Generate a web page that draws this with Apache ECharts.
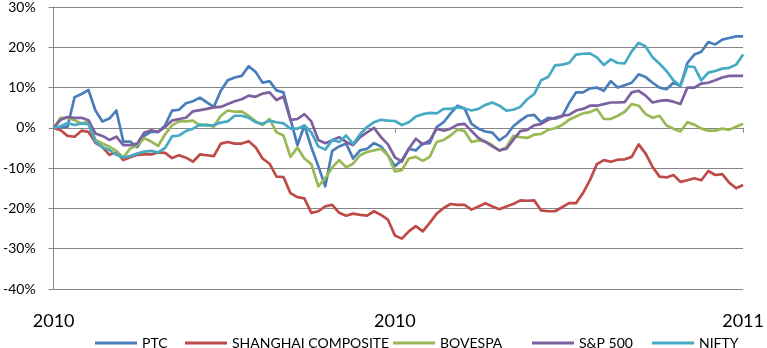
<!DOCTYPE html>
<html><head><meta charset="utf-8">
<script src="https://cdn.jsdelivr.net/npm/echarts@6/dist/echarts.min.js"></script>
<style>html,body{margin:0;padding:0;background:#fff}#c{width:767px;height:348px}</style>
</head><body><div id="c"></div>
<script>
const seriesNames = ['PTC', 'SHANGHAI COMPOSITE', 'BOVESPA', 'S&P 500', 'NIFTY'];
const seriesColors = ['#4A7EBB', '#BE4B48', '#98B954', '#7D60A0', '#46AAC5'];

const ptc = [0, 0.2, 0.3, 7.6, 8.4, 9.4, 4.3, 1.6, 2.3, 4.3, -3.4, -3.4, -4.8, -2.0, -1.0, -1.0, 0.6, 4.3, 4.5, 6.1,
  6.6, 7.5, 6.3, 5.2, 9.2, 11.8, 12.5, 12.9, 15.3, 13.9, 11.2, 11.6, 9.3, 8.8, 2.2, -4.3, 0.6, -4.8, -9.5, -14.5,
  -5.7, -4.6, -3.9, -7.6, -5.6, -5.2, -3.8, -4.6, -6.8, -9.5, -8.0, -5.2, -5.6, -3.9, -3.8, 0.2, 1.4, 3.6, 5.5, 4.8,
  1.0, -0.2, -0.9, -1.2, -3.1, -1.9, 0.4, 1.8, 3.0, 3.2, 1.4, 2.5, 2.3, 2.8, 6.1, 8.8, 8.8, 9.8, 10.0, 9.2,
  11.6, 10.0, 10.6, 11.2, 13.3, 12.6, 11.2, 10.0, 9.6, 11.2, 10.4, 16.1, 18.2, 18.9, 21.3, 20.7, 21.9, 22.3, 22.7, 22.7];

const shanghai = [0, -0.6, -2.0, -2.2, -0.7, -1.0, -3.7, -4.8, -6.7, -6.1, -8.0, -7.3, -6.7, -6.6, -6.6, -6.1, -6.2, -7.5, -6.8, -7.4,
  -8.4, -6.6, -6.8, -7.0, -3.9, -3.5, -3.9, -3.9, -3.3, -4.8, -7.6, -8.9, -12.1, -12.2, -16.2, -17.2, -17.5, -21.1, -20.7, -19.5,
  -19.1, -21.1, -21.8, -21.3, -21.6, -21.8, -20.7, -21.6, -22.8, -26.7, -27.5, -25.7, -24.4, -25.7, -23.6, -21.3, -19.9, -18.9, -19.1, -19.1,
  -20.3, -19.5, -18.7, -19.5, -20.2, -19.5, -18.9, -18.0, -18.1, -18.0, -20.5, -20.7, -20.7, -19.7, -18.7, -18.7, -16.2, -13.0, -9.0, -8.0,
  -8.4, -7.9, -7.8, -7.2, -4.1, -6.4, -9.7, -12.1, -12.3, -11.7, -13.4, -13.0, -12.5, -13.0, -10.7, -11.7, -11.5, -13.6, -15.0, -14.2];

const bovespa = [0, 2.5, 2.5, 1.9, 1.1, 1.5, -3.0, -3.9, -4.7, -5.7, -7.4, -5.1, -4.3, -2.6, -3.4, -4.5, -1.6, 0.6, 1.6, 1.6,
  1.8, 0.6, 0.8, 0.3, 3.0, 4.3, 4.0, 4.1, 3.0, 1.6, 0.7, 2.2, -1.1, -1.9, -7.2, -4.9, -7.6, -9.0, -14.5, -12.5,
  -9.8, -8.0, -9.8, -8.9, -6.8, -6.0, -5.6, -5.2, -6.8, -10.8, -10.5, -7.6, -7.2, -8.2, -7.2, -3.5, -3.0, -1.9, -0.4, -0.8,
  -3.5, -3.1, -3.4, -4.3, -5.7, -4.8, -2.0, -2.3, -2.5, -1.7, -1.5, -0.5, -0.1, 0.7, 2.0, 2.8, 3.6, 3.9, 4.7, 2.2,
  2.2, 3.0, 4.0, 5.9, 5.5, 3.4, 2.5, 3.0, 0.6, -0.2, -0.9, 1.4, 0.8, -0.2, -0.7, -0.7, -0.2, -0.5, 0.3, 1.0];

const sp500 = [0, 2.0, 2.7, 2.5, 2.5, 1.9, -1.4, -2.0, -3.0, -2.2, -4.3, -4.3, -3.9, -1.2, -0.6, -1.0, 0.2, 1.8, 2.2, 2.5,
  4.1, 4.4, 4.7, 5.1, 5.2, 5.9, 6.6, 7.1, 8.0, 7.7, 8.5, 8.8, 6.9, 7.8, 2.0, 2.2, 3.4, 1.6, -3.0, -3.8,
  -3.1, -2.3, -3.5, -4.3, -2.3, -1.1, 0, -2.3, -4.1, -7.3, -8.4, -5.2, -2.7, -4.1, -3.1, -0.2, -0.7, -0.2, 0.8, 1.0,
  -0.8, -2.5, -3.5, -4.6, -5.6, -5.2, -3.0, -0.8, -0.5, 0.6, 1.0, 2.0, 2.5, 3.0, 3.2, 4.3, 4.7, 5.5, 5.5, 5.9,
  6.3, 6.3, 6.4, 8.8, 9.2, 8.0, 6.3, 6.7, 6.9, 6.5, 5.9, 10.0, 10.0, 11.0, 11.2, 11.8, 12.5, 12.9, 12.9, 12.9];

const nifty = [0, 0.4, 1.2, 0.7, 1.1, 0.9, -3.4, -4.8, -5.5, -6.7, -7.3, -7.0, -6.4, -5.9, -5.7, -6.1, -5.0, -2.1, -1.9, -0.8,
  -0.2, 0.8, 0.6, 0.7, 1.3, 1.6, 3.0, 3.0, 2.5, 1.4, 1.0, 1.8, 1.4, 1.1, -0.2, -0.2, 0.6, -1.1, -4.6, -5.4,
  -3.0, -3.5, -1.9, -4.0, -1.6, 0.2, 1.4, 2.0, 1.8, 1.7, 0.7, 1.4, 2.8, 3.4, 3.7, 3.6, 4.7, 4.7, 5.1, 4.8,
  4.3, 4.7, 5.7, 6.3, 5.5, 4.3, 4.5, 5.2, 7.1, 8.4, 11.8, 12.6, 15.5, 15.7, 16.1, 18.2, 18.4, 18.5, 17.5, 15.6,
  17.0, 16.1, 16.0, 19.0, 21.1, 20.2, 17.5, 15.9, 14.1, 11.8, 10.4, 15.3, 15.1, 11.8, 13.7, 14.1, 14.7, 14.9, 15.7, 18.2];

const tickIndex = [0, 49, 99];
const tickLabels = ['2010', '2010', '2011'];
const yMin = -40, yMax = 30, yStep = 10;

const seriesData = [ptc, shanghai, bovespa, sp500, nifty];
const categories = ptc.map((_, i) => i);
const legendLeft = [95, 185, 393, 532, 652];
const font = 'Lato';

const chart = echarts.init(document.getElementById('c'), null, {renderer: 'canvas'});
chart.setOption({
  animation: false,
  backgroundColor: '#ffffff',
  grid: {left: 53, right: 21, top: 5, bottom: 59, containLabel: false},
  xAxis: [{
    type: 'category', data: categories, boundaryGap: false,
    axisLine: {onZero: true, lineStyle: {color: '#868686', width: 1}},
    axisTick: {show: true, length: 5, interval: (i) => tickIndex.includes(i), lineStyle: {color: '#868686'}},
    axisLabel: {show: false},
    splitLine: {show: false}
  }, {
    type: 'category', data: categories, boundaryGap: false, position: 'bottom',
    axisLine: {show: false}, axisTick: {show: false}, splitLine: {show: false},
    axisLabel: {
      show: true, margin: 23, interval: (i) => tickIndex.includes(i),
      formatter: (v, i) => tickLabels[tickIndex.indexOf(Number(v))] || '',
      fontFamily: font, fontSize: 18, color: '#000'
    }
  }],
  yAxis: {
    type: 'value', min: yMin, max: yMax, interval: yStep,
    axisLine: {show: true, lineStyle: {color: '#868686', width: 1}},
    axisTick: {show: true, length: 5, lineStyle: {color: '#868686'}},
    axisLabel: {formatter: (v) => v + '%', fontFamily: font, fontSize: 14, color: '#000', margin: 18},
    splitLine: {show: true, lineStyle: {color: '#868686', width: 1}}
  },
  legend: seriesNames.map((n, i) => ({
    data: [n], left: legendLeft[i], top: 335, padding: 0, icon: 'rect',
    itemWidth: 42, itemHeight: 3, selectedMode: false,
    textStyle: {fontFamily: font, fontSize: 14, color: '#000', lineHeight: 16}
  })),
  series: seriesNames.map((n, i) => ({
    name: n, type: 'line', xAxisIndex: 0, data: seriesData[i],
    showSymbol: false, symbol: 'none', smooth: false,
    lineStyle: {color: seriesColors[i], width: 2.7, join: 'round'},
    itemStyle: {color: seriesColors[i]},
    emphasis: {disabled: true}
  }))
});
</script></body></html>
